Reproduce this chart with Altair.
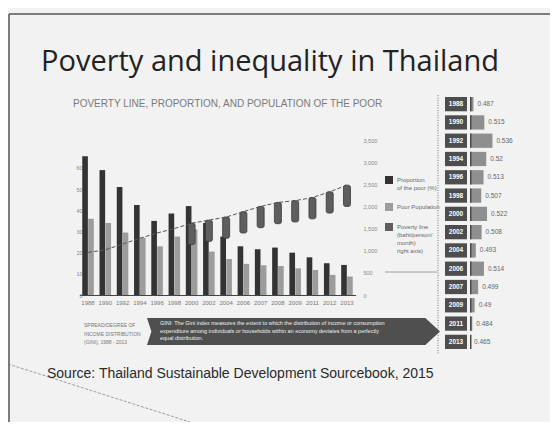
import altair as alt
import pandas as pd

# ---------------- data ----------------
years = ["1988", "1990", "1992", "1994", "1996", "1998", "2000", "2002",
         "2004", "2006", "2007", "2008", "2009", "2011", "2012", "2013"]
poor_pct = [65.5, 59.0, 51.0, 42.5, 35.0, 38.5, 42.0, 34.0,
            27.6, 23.0, 21.6, 22.4, 20.0, 17.8, 15.0, 14.2]
poor_pop = [36.0, 34.0, 29.5, 27.0, 23.0, 27.6, 31.0, 20.5,
            17.0, 14.7, 14.0, 13.7, 12.6, 11.8, 9.5, 8.7]
pov_line = [960, 1020, 1150, 1280, 1400, 1500, 1620, 1690,
            1760, 1880, 2000, 2090, 2130, 2200, 2330, 2480]
series_names = ["Proportion of the poor (%)", "Poor Population",
                "Poverty line (baht/person/month) right axis"]
series_colors = ["#333333", "#9c9c9c", "#5e5e5e"]

gini_years = ["1988", "1990", "1992", "1994", "1996", "1998", "2000",
              "2002", "2004", "2006", "2007", "2009", "2011", "2013"]
gini_vals = [0.487, 0.515, 0.536, 0.520, 0.513, 0.507, 0.522,
             0.508, 0.493, 0.514, 0.499, 0.490, 0.484, 0.465]

title_text = "Poverty and inequality in Thailand"
subtitle_text = "POVERTY LINE, PROPORTION, AND POPULATION OF THE POOR"
source_text = "Source: Thailand Sustainable Development Sourcebook, 2015"
gini_note = "SPREAD/DEGREE OF\nINCOME DISTRIBUTION\n(GINI), 1988 - 2013"
banner_text = ("GINI: The Gini index measures the extent to which the distribution of income or consumption\n"
               "expenditure among individuals or households within an economy deviates from a perfectly\n"
               "equal distribution.")

# ---------------- tables ----------------
df_bars = pd.DataFrame({
    "year": years * 2,
    "series": [series_names[0]] * len(years) + [series_names[1]] * len(years),
    "value": poor_pct + poor_pop,
})
df_line = pd.DataFrame({"year": years, "pline": pov_line})
df_gini = pd.DataFrame({"gyear": gini_years, "gini": gini_vals})
one = pd.DataFrame({"k": [0]})

W, H = 542, 414
BASE = 287

x_scale = alt.Scale(domain=years, range=[71.4, 347.6], paddingInner=0.33, paddingOuter=0.165)
y_left = alt.Scale(domain=[0, 70], range=[BASE, 138.8])
y_right = alt.Scale(domain=[0, 3500], range=[BASE, 132])
color_scale = alt.Scale(domain=series_names, range=series_colors)

legend = alt.Legend(
    orient="none", legendX=377, legendY=168, title=None,
    symbolType="square", symbolSize=64, symbolStrokeWidth=0,
    labelFontSize=6, labelColor="#666666", labelFont="Liberation Sans",
    rowPadding=12, padding=0, labelOffset=4,
    labelExpr=("datum.label == 'Poor Population' ? 'Poor Population' : "
               "(datum.label == 'Proportion of the poor (%)' ? ['Proportion', 'of the poor (%)'] : "
               "['Poverty line', '(baht/person/', 'month)', 'right axis)'])"),
)

bars = alt.Chart(df_bars).mark_bar().encode(
    x=alt.X("year:N", scale=x_scale, sort=years,
            axis=alt.Axis(orient="bottom", offset=-(H - BASE), labelAngle=0, labelFontSize=6,
                          labelColor="#777777", ticks=False, domainColor="#444444",
                          domainWidth=1.2, labelPadding=4, title=None, labelFont="Liberation Sans")),
    xOffset=alt.XOffset("series:N", scale=alt.Scale(domain=series_names[:2], paddingInner=0.05)),
    y=alt.Y("value:Q", scale=y_left,
            axis=alt.Axis(orient="left", offset=-76, values=[0, 10, 20, 30, 40, 50, 60],
                          labelFontSize=5.5, labelColor="#888888", ticks=False, domain=False,
                          grid=False, title=None, labelPadding=2)),
    color=alt.Color("series:N", scale=color_scale, legend=legend),
)

xl = alt.X("year:N", scale=x_scale, sort=years, axis=None)

line = alt.Chart(df_line).mark_line(color="#555555", strokeWidth=1, strokeDash=[4, 2]).encode(
    x=xl,
    y=alt.Y("pline:Q", scale=y_right,
            axis=alt.Axis(orient="right", offset=-(W - 350), values=list(range(0, 3501, 500)),
                          format=",d", labelFontSize=5.5, labelColor="#888888", ticks=False,
                          domain=False, grid=False, title=None, labelPadding=5)),
)

bottles = alt.Chart(df_line).transform_filter(
    "toNumber(datum.year) >= 2000"
).transform_calculate(low="datum.pline - 480").mark_bar(
    width=7, cornerRadius=2, stroke="#3a3a3a", strokeWidth=0.8
).encode(
    x=xl,
    y=alt.Y("pline:Q", scale=y_right, axis=None),
    y2="low:Q",
    color=alt.datum(series_names[2]),
)

# ---------------- Gini panel ----------------
gy = alt.Y("gyear:N", sort=gini_years,
           scale=alt.Scale(domain=gini_years, range=[87, 343], paddingInner=0.22, paddingOuter=0.11),
           axis=None)
gx_scale = alt.Scale(domain=[0.478, 0.54], range=[462, 486], zero=False, clamp=True)

g_rule = alt.Chart(one).mark_rule(color="#777777", strokeDash=[1, 1.5], strokeWidth=1).encode(
    x=alt.value(430), y=alt.value(87), y2=alt.value(346))
g_box = alt.Chart(df_gini).mark_rect(fill="#4d4d4d").encode(
    x=alt.value(437), x2=alt.value(459), y=gy)
g_year = alt.Chart(df_gini).mark_text(color="white", fontSize=6.5, fontWeight="bold",
                                      font="Liberation Sans").encode(
    x=alt.value(448), y=gy, text="gyear:N")
g_bar = alt.Chart(df_gini).mark_bar(color="#8f8f8f").encode(
    x=alt.X("gini:Q", scale=gx_scale, axis=None), y=gy)
g_start = alt.Chart(df_gini).mark_rect(color="#4a4a4a").encode(
    x=alt.value(462), x2=alt.value(463.5), y=gy)
g_text = alt.Chart(df_gini).mark_text(align="left", dx=4, fontSize=6.5, color="#666666",
                                      font="Liberation Sans").encode(
    x=alt.X("gini:Q", scale=gx_scale, axis=None), y=gy,
    text=alt.Text("gini:Q", format=".3~f"))

# ---------------- decorations and texts ----------------
frame_top = alt.Chart(one).mark_rule(color="#555555", strokeWidth=1.5).encode(
    x=alt.value(1), x2=alt.value(W), y=alt.value(6))
frame_left = alt.Chart(one).mark_rule(color="#555555", strokeWidth=1.5).encode(
    x=alt.value(1), y=alt.value(6), y2=alt.value(H))
curl = alt.Chart(one).mark_rule(color="#777777", strokeWidth=1, strokeDash=[3, 1.5], opacity=0.7).encode(
    x=alt.value(0), y=alt.value(356), x2=alt.value(182), y2=alt.value(H))
legend_rule = alt.Chart(one).mark_rule(color="#888888", strokeWidth=0.8).encode(
    x=alt.value(377), x2=alt.value(429), y=alt.value(264))

title = alt.Chart(pd.DataFrame({"t": [title_text]})).mark_text(
    align="left", baseline="alphabetic", font="Open Sans", fontSize=29, color="#222222"
).encode(x=alt.value(33), y=alt.value(63), text="t:N")

subtitle = alt.Chart(pd.DataFrame({"t": [subtitle_text]})).mark_text(
    align="left", baseline="middle", font="Liberation Sans", fontSize=10, color="#7a7a7a"
).encode(x=alt.value(65), y=alt.value(96), text="t:N")

source = alt.Chart(pd.DataFrame({"t": [source_text]})).mark_text(
    align="left", baseline="alphabetic", font="Liberation Sans", fontSize=14, color="#2a2a2a"
).encode(x=alt.value(39), y=alt.value(370), text="t:N")

note = alt.Chart(pd.DataFrame({"t": [gini_note]})).mark_text(
    align="left", baseline="top", font="Liberation Sans", fontSize=5, color="#777777",
    lineBreak="\n", lineHeight=8.5
).encode(x=alt.value(76), y=alt.value(315), text="t:N")

banner = alt.Chart(one).mark_point(
    shape="M -0.97 0 L -1 -0.092 L 0.9 -0.092 L 1 0 L 0.9 0.092 L -1 0.092 Z",
    size=293 * 293, filled=True, fill="#4f4f4f", opacity=1, strokeWidth=0
).encode(x=alt.value(285.5), y=alt.value(323.5))

banner_t = alt.Chart(pd.DataFrame({"t": [banner_text]})).mark_text(
    align="left", baseline="top", font="Liberation Sans", fontSize=5.5, color="#f0f0f0",
    lineBreak="\n", lineHeight=7.5
).encode(x=alt.value(152), y=alt.value(313), text="t:N")

chart = alt.layer(
    frame_top, frame_left, curl,
    title, subtitle,
    bars, line, bottles, legend_rule,
    g_rule, g_box, g_year, g_bar, g_start, g_text,
    banner, banner_t, note, source,
).resolve_scale(
    x="independent", y="independent"
).properties(
    width=W, height=H, padding=0, background="#f2f2f2",
    autosize=alt.AutoSizeParams(type="none"),
).configure_view(stroke=None)

chart.save("out.html", embed_options={"renderer": "svg", "actions": False})
